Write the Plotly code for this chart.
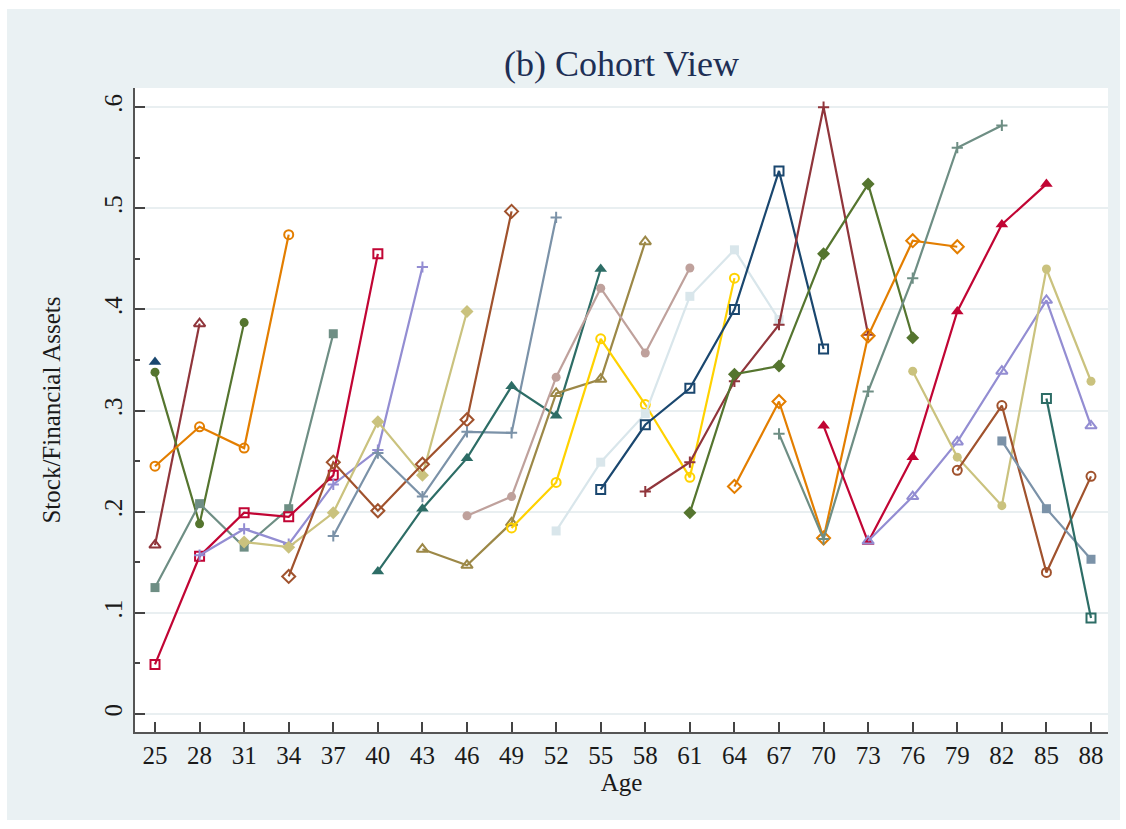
import plotly.graph_objects as go

# Survey ages on the x axis (3-year spacing)
age_ticks = [25, 28, 31, 34, 37, 40, 43, 46, 49, 52, 55, 58, 61, 64, 67, 70, 73, 76, 79, 82, 85, 88]

# First observed age of each cohort and its stock share of financial assets
cohort_start_age = [25, 25, 25, 25, 25, 25, 28, 31, 34, 37, 40, 43, 46,
                    49, 52, 55, 58, 61, 64, 67, 70, 73, 76, 79, 82, 85]
cohort_share = [
    [0.348],
    [0.167, 0.386],
    [0.338, 0.188, 0.387],
    [0.245, 0.284, 0.263, 0.474],
    [0.125, 0.208, 0.165, 0.203, 0.376],
    [0.049, 0.156, 0.199, 0.195, 0.236, 0.455],
    [0.157, 0.183, 0.168, 0.227, 0.261, 0.442],
    [0.170, 0.165, 0.199, 0.289, 0.236, 0.398],
    [0.136, 0.249, 0.201, 0.247, 0.291, 0.497],
    [0.176, 0.258, 0.215, 0.279, 0.278, 0.491],
    [0.141, 0.203, 0.253, 0.324, 0.295, 0.440],
    [0.163, 0.147, 0.189, 0.317, 0.331, 0.467],
    [0.196, 0.215, 0.333, 0.421, 0.357, 0.441],
    [0.184, 0.229, 0.371, 0.306, 0.234, 0.431],
    [0.181, 0.249, 0.297, 0.413, 0.459, 0.390],
    [0.222, 0.286, 0.322, 0.400, 0.537, 0.361],
    [0.220, 0.249, 0.329, 0.385, 0.600, 0.375],
    [0.199, 0.336, 0.344, 0.455, 0.524, 0.372],
    [0.225, 0.309, 0.174, 0.374, 0.468, 0.462],
    [0.277, 0.173, 0.319, 0.431, 0.560, 0.582],
    [0.285, 0.170, 0.254, 0.398, 0.484, 0.524],
    [0.171, 0.215, 0.269, 0.339, 0.409, 0.285],
    [0.339, 0.254, 0.206, 0.440, 0.329],
    [0.241, 0.305, 0.140, 0.235],
    [0.270, 0.203, 0.153],
    [0.312, 0.095],
]

y_tick_values = [0, 0.1, 0.2, 0.3, 0.4, 0.5, 0.6]
y_tick_labels = ["0", ".1", ".2", ".3", ".4", ".5", ".6"]

# s2color-like palette, cycled over cohorts
palette = [
    "rgb(26,71,111)", "rgb(144,53,59)", "rgb(85,117,47)", "rgb(227,126,0)",
    "rgb(110,142,132)", "rgb(193,5,52)", "rgb(147,141,210)", "rgb(202,194,126)",
    "rgb(160,82,45)", "rgb(123,146,168)", "rgb(45,109,102)", "rgb(156,136,71)",
    "rgb(191,161,156)", "rgb(255,210,0)", "rgb(217,230,235)",
]
symbols = ["triangle-up", "triangle-up-open", "circle", "circle-open", "square",
           "square-open", "cross-thin", "diamond", "diamond-open", "cross-thin"]
symbol_size = {"triangle-up": 11, "triangle-up-open": 10, "circle": 9, "circle-open": 9,
               "square": 9, "square-open": 9, "cross-thin": 8, "diamond": 10,
               "diamond-open": 10}

fig = go.Figure()
for i, (start, vals) in enumerate(zip(cohort_start_age, cohort_share)):
    color = palette[i % len(palette)]
    sym = symbols[i % len(symbols)]
    ages = [start + 3 * k for k in range(len(vals))]
    fig.add_trace(go.Scatter(
        x=ages, y=vals, mode="lines+markers",
        line=dict(color=color, width=2.2),
        marker=dict(symbol=sym, size=symbol_size[sym], color=color,
                    line=dict(color=color, width=2 if ("open" in sym or "cross" in sym) else 0)),
        showlegend=False, hoverinfo="skip",
    ))

serif = "Liberation Serif, Times New Roman, serif"
outer_bg = "#eaf1f3"

fig.update_layout(
    width=1126, height=829,
    margin=dict(l=135, r=18, t=88, b=97),
    paper_bgcolor="white",
    plot_bgcolor="white",
    font=dict(family=serif, size=25, color="#1a1a1a"),
    title=dict(text="(b) Cohort View", x=0.5, xref="paper", xanchor="center",
               y=1 - 63 / 829, yref="container", yanchor="middle",
               font=dict(family=serif, size=36, color="#1e2f55")),
    shapes=[
        dict(type="rect", xref="paper", yref="paper", layer="below",
             x0=(7 - 135) / 973, x1=(1120 - 135) / 973,
             y0=(732 - 820) / 644, y1=(732 - 9) / 644,
             fillcolor=outer_bg, line=dict(width=0)),
        dict(type="rect", xref="paper", yref="paper", layer="below",
             x0=0, x1=1, y0=0, y1=1, fillcolor="white", line=dict(width=0)),
    ],
)

fig.update_xaxes(
    range=[23.654, 89.144],
    tickmode="array", tickvals=age_ticks, ticktext=[str(a) for a in age_ticks],
    ticks="inside", ticklen=10, tickwidth=2, tickcolor="#444",
    showline=True, linecolor="#555", linewidth=2,
    showgrid=False, zeroline=False,
    tickfont=dict(family=serif, size=25, color="#1a1a1a"),
    title=dict(text="Age", standoff=4, font=dict(family=serif, size=25, color="#1a1a1a")),
)

fig.update_yaxes(
    range=[-0.0178, 0.619],
    tickmode="array", tickvals=y_tick_values, ticktext=y_tick_labels,
    tickangle=-90,
    ticks="inside", ticklen=10, tickwidth=2, tickcolor="#444",
    minor=dict(tickmode="array", tickvals=[0.05, 0.15, 0.25, 0.35, 0.45, 0.55],
               ticks="inside", ticklen=5, tickwidth=1.5, tickcolor="#444", showgrid=False),
    showline=True, linecolor="#555", linewidth=2,
    showgrid=True, gridcolor="#e9eff1", gridwidth=1.5,
    zeroline=False,
    ticklabelstandoff=1,
    tickfont=dict(family=serif, size=25, color="#1a1a1a"),
    title=dict(text="Stock/Financial Assets", standoff=32,
               font=dict(family=serif, size=25, color="#1a1a1a")),
)

fig.write_html("out.html")
